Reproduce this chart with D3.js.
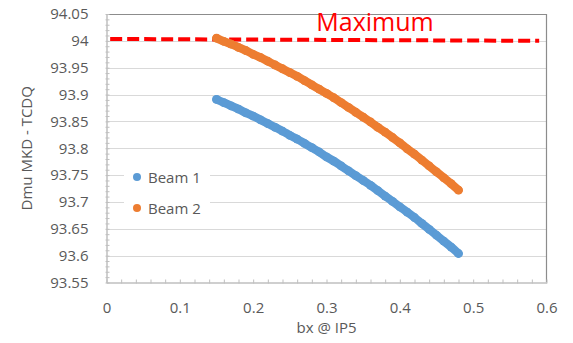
<!DOCTYPE html>
<html>
<head>
<meta charset="utf-8">
<script src="https://cdn.jsdelivr.net/npm/d3@7"></script>
<style>
  html, body { margin: 0; padding: 0; background: #fff; }
  svg { display: block; font-family: "Open Sans", sans-serif; }
</style>
</head>
<body>
<svg id="chart" width="573" height="343"></svg>
<script>
// beta* at IP5 (x) and kick margin values per beam
const bx = [0.15, 0.16, 0.17, 0.18, 0.19, 0.20, 0.21, 0.22, 0.23, 0.24, 0.25,
            0.26, 0.27, 0.28, 0.29, 0.30, 0.31, 0.32, 0.33, 0.34, 0.35, 0.36,
            0.37, 0.38, 0.39, 0.40, 0.41, 0.42, 0.43, 0.44, 0.45, 0.46, 0.47, 0.48];
const beam1 = [93.891, 93.885, 93.879, 93.873, 93.866, 93.860, 93.853, 93.846, 93.839,
               93.832, 93.824, 93.817, 93.809, 93.801, 93.793, 93.784, 93.776, 93.767,
               93.758, 93.749, 93.740, 93.731, 93.721, 93.711, 93.701, 93.691, 93.681,
               93.671, 93.660, 93.649, 93.638, 93.627, 93.616, 93.604];
const beam2 = [94.005, 93.999, 93.994, 93.988, 93.982, 93.975, 93.969, 93.962, 93.955,
               93.948, 93.941, 93.934, 93.926, 93.918, 93.910, 93.902, 93.894, 93.885,
               93.876, 93.867, 93.858, 93.849, 93.839, 93.830, 93.820, 93.810, 93.799,
               93.789, 93.778, 93.767, 93.756, 93.745, 93.734, 93.722];
// the "Maximum" reference line
const maxX = [0.005, 0.59];
const maxY = [94.0035, 94.0];

const seriesNames = ["Beam 1", "Beam 2"];
const seriesColors = ["#5b9bd5", "#ed7d31"];

const xTicks = [0, 0.1, 0.2, 0.3, 0.4, 0.5, 0.6];
const yTicks = [93.55, 93.6, 93.65, 93.7, 93.75, 93.8, 93.85, 93.9, 93.95, 94, 94.05];
const xMinor = d3.range(0, 31).map(i => +(i * 0.02).toFixed(2));
const yMinor = d3.range(0, 51).map(i => +(93.55 + i * 0.01).toFixed(2));

const svg = d3.select("#chart");
const L = 106.5, R = 546.5, T = 14, B = 282.5;
const x = d3.scaleLinear().domain([0, 0.6]).range([L, R]);
const y = d3.scaleLinear().domain([93.55, 94.05]).range([B, T]);

// horizontal gridlines
svg.append("g").selectAll("line")
  .data(yTicks.slice(1, -1)).join("line")
  .attr("x1", L).attr("x2", R)
  .attr("y1", d => Math.round(y(d)) + 0.5).attr("y2", d => Math.round(y(d)) + 0.5)
  .attr("stroke", "#d9d9d9").attr("stroke-width", 1);

// plot area frame (top / right)
svg.append("path")
  .attr("d", `M${L},${T + 0.5}H${R}V${B}`)
  .attr("fill", "none").attr("stroke", "#8c8c8c").attr("stroke-width", 1.2);

// minor tick marks on both axes
const yMinorAxis = svg.append("g").attr("transform", `translate(${L},0)`)
  .call(d3.axisLeft(y).tickValues(yMinor).tickSize(-4).tickFormat(""));
const xMinorAxis = svg.append("g").attr("transform", `translate(0,${B})`)
  .call(d3.axisBottom(x).tickValues(xMinor).tickSize(-4).tickFormat(""));
[yMinorAxis, xMinorAxis].forEach(g => {
  g.select(".domain").remove();
  g.selectAll("line").attr("stroke", "#bfbfbf").attr("transform", g === yMinorAxis ? "translate(-1,0)" : "translate(0,1)");
});

// labelled axes
const fmt = d => String(+d.toFixed(2));
const yAxis = svg.append("g").attr("transform", `translate(${L},0)`)
  .call(d3.axisLeft(y).tickValues(yTicks).tickSize(0).tickPadding(18).tickFormat(fmt));
const xAxis = svg.append("g").attr("transform", `translate(0,${B})`)
  .call(d3.axisBottom(x).tickValues(xTicks).tickSize(0).tickPadding(20).tickFormat(fmt));
[yAxis, xAxis].forEach(g => {
  g.select(".domain").attr("stroke", "#bfbfbf").attr("stroke-width", 1.5);
  g.selectAll("text").attr("fill", "#595959").attr("font-size", 15)
    .attr("font-family", "'Open Sans', sans-serif");
});

// axis titles
svg.append("text")
  .attr("transform", `translate(32,${(T + B) / 2}) rotate(-90)`)
  .attr("text-anchor", "middle").attr("fill", "#595959").attr("font-size", 15)
  .text("Dmu MKD - TCDQ");
svg.append("text")
  .attr("x", (L + R) / 2).attr("y", 333)
  .attr("text-anchor", "middle").attr("fill", "#595959").attr("font-size", 15)
  .text("bx @ IP5");

// Maximum line
svg.append("line")
  .attr("x1", x(maxX[0])).attr("x2", x(maxX[1]))
  .attr("y1", y(maxY[0])).attr("y2", y(maxY[1]))
  .attr("stroke", "#ff0000").attr("stroke-width", 4)
  .attr("stroke-dasharray", "12,5");
svg.append("text")
  .attr("x", 375).attr("y", 31)
  .attr("text-anchor", "middle").attr("fill", "#ff0000").attr("font-size", 25)
  .text("Maximum");

// data: closely spaced markers merge into a solid band
const band = d3.line().x((d, i) => x(bx[i])).y(d => y(d)).curve(d3.curveMonotoneX);
[beam1, beam2].forEach((vals, s) => {
  const g = svg.append("g");
  g.append("path").attr("d", band(vals))
    .attr("fill", "none").attr("stroke", seriesColors[s])
    .attr("stroke-width", 8.4).attr("stroke-linecap", "round");
  g.selectAll("circle")
    .data(vals).join("circle")
    .attr("cx", (d, i) => x(bx[i]))
    .attr("cy", d => y(d))
    .attr("r", 4.4)
    .attr("fill", seriesColors[s]);
});

// legend
const legend = svg.append("g");
legend.append("rect")
  .attr("x", 124).attr("y", 164).attr("width", 86).attr("height", 58)
  .attr("fill", "#fff");
seriesNames.forEach((name, i) => {
  const cy = 177 + i * 31;
  legend.append("circle").attr("cx", 137).attr("cy", cy).attr("r", 4)
    .attr("fill", seriesColors[i]);
  legend.append("text").attr("x", 148).attr("y", cy + 5.5)
    .attr("fill", "#595959").attr("font-size", 15).text(name);
});
</script>
</body>
</html>
